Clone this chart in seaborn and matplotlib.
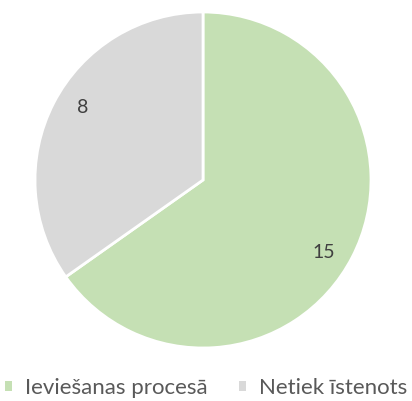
import matplotlib
matplotlib.use("Agg")
import numpy as np
import matplotlib.pyplot as plt
import seaborn as sns
from matplotlib.patches import Patch

categories = ["Ieviešanas procesā", "Netiek īstenots"]
values = [15, 8]
colors = ["#c5e0b4", "#d9d9d9"]

sns.set_theme(style="white")
plt.rcParams["font.family"] = ["Lato", "DejaVu Sans"]

fig = plt.figure(figsize=(4.12, 4.01), dpi=100)
W, H = 412, 401
cx, cy, r = 203, 180, 168
ax = fig.add_axes([(cx - r) / W, (H - cy - r) / H, 2 * r / W, 2 * r / H])

wedges, _ = ax.pie(
    values,
    colors=colors,
    startangle=90,
    counterclock=False,
    wedgeprops=dict(edgecolor="white", linewidth=2),
    radius=1.0,
)
# data labels placed inside each wedge (slightly offset like Excel's best fit)
for w, v in zip(wedges, values):
    ang = np.deg2rad((w.theta1 + w.theta2) / 2 - 3.5)
    d = 0.835
    ax.text(d * np.cos(ang), d * np.sin(ang), str(v), ha="center", va="center",
            fontsize=14, color="#404040")
ax.set_xlim(-1.0, 1.0)
ax.set_ylim(-1.0, 1.0)
ax.set_aspect("equal")
ax.axis("off")

handles = [Patch(facecolor=c, edgecolor="none") for c in colors]
fig.legend(
    handles, categories, loc="center", bbox_to_anchor=(0.5, (H - 388) / H),
    ncol=2, frameon=False, fontsize=16, labelcolor="#595959",
    handlelength=0.32, handleheight=0.32, handletextpad=0.6, columnspacing=1.4,
    borderpad=0.1,
)

fig.savefig("out.png", dpi=100)
